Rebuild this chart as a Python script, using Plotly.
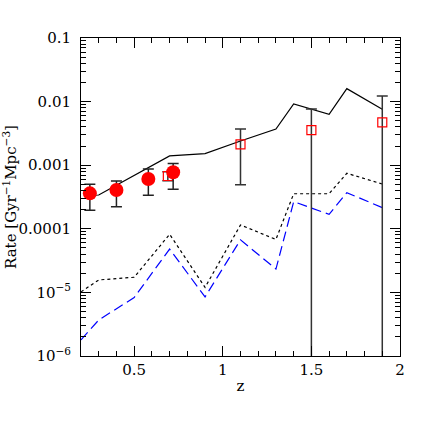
import plotly.graph_objects as go
import numpy as np

# model curves
z_model = [0.2, 0.3, 0.5, 0.7, 0.9, 1.1, 1.3, 1.4, 1.6, 1.7, 1.9]
rate_dotted = [1.02e-5, 1.57e-5, 1.73e-5, 8.2e-5, 1.2e-5, 1.15e-4, 6.8e-5, 3.56e-4, 3.56e-4, 7.46e-4, 5.06e-4]
rate_dashed = [1.79e-6, 3.68e-6, 8.3e-6, 4.8e-5, 8.5e-6, 6.7e-5, 2.33e-5, 2.67e-4, 1.69e-4, 3.7e-4, 2.15e-4]
z_solid = [0.25, 0.3, 0.7, 0.9, 1.1, 1.3, 1.4, 1.6, 1.7, 1.9]
rate_solid = [3.35e-4, 3.4e-4, 1.40e-3, 1.52e-3, 2.4e-3, 3.71e-3, 9.16e-3, 6.3e-3, 1.6e-2, 7.57e-3]

# observed rates: filled circles
z_circ = [0.25, 0.4, 0.58, 0.72]
rate_circ = [3.61e-4, 4.07e-4, 6.07e-4, 7.73e-4]
circ_hi = [5.0e-4, 5.65e-4, 8.7e-4, 1.06e-3]
circ_lo = [1.95e-4, 2.23e-4, 3.37e-4, 4.18e-4]

# observed rates: open squares
z_sq = [0.69, 1.1, 1.5, 1.9]
rate_sq = [6.76e-4, 2.13e-3, 3.57e-3, 4.73e-3]
sq_hi = [7.9e-4, 3.7e-3, 7.66e-3, 1.22e-2]
sq_lo = [5.7e-4, 4.93e-4, 1e-8, 1e-8]

y_tickvals = [1e-6, 1e-5, 1e-4, 1e-3, 1e-2, 1e-1]
y_ticktext = ["10<sup>−6</sup>", "10<sup>−5</sup>", "0.0001", "0.001", "0.01", "0.1"]
x_tickvals = [0.5, 1, 1.5, 2]
x_ticktext = ["0.5", "1", "1.5", "2"]

minor_y = [m * 10.0 ** e for e in range(-6, -1) for m in range(2, 10)]
minor_x = [round(v, 1) for v in np.arange(0.2, 2.01, 0.1)]

font = "DejaVu Serif"
fig = go.Figure()

fig.add_trace(go.Scatter(x=z_model, y=rate_dotted, mode="lines",
                         line=dict(color="black", width=1.2, dash="dot")))
fig.add_trace(go.Scatter(x=z_model, y=rate_dashed, mode="lines",
                         line=dict(color="#0000ff", width=1.2, dash="10px,5px")))
fig.add_trace(go.Scatter(x=z_solid, y=rate_solid, mode="lines",
                         line=dict(color="black", width=1.2)))

fig.add_trace(go.Scatter(
    x=z_sq, y=rate_sq, mode="markers",
    marker=dict(symbol="square-open", size=9, color="red", line=dict(width=1.2, color="red")),
    error_y=dict(type="data", symmetric=False,
                 array=[h - v for h, v in zip(sq_hi, rate_sq)],
                 arrayminus=[v - l for v, l in zip(rate_sq, sq_lo)],
                 color="#333333", thickness=1.5, width=5.5)))

fig.add_trace(go.Scatter(
    x=z_circ, y=rate_circ, mode="markers",
    marker=dict(symbol="circle", size=14, color="red"),
    error_y=dict(type="data", symmetric=False,
                 array=[h - v for h, v in zip(circ_hi, rate_circ)],
                 arrayminus=[v - l for v, l in zip(rate_circ, circ_lo)],
                 color="#222222", thickness=1.5, width=5.5)))

fig.update_layout(
    width=436, height=436,
    margin=dict(l=81, r=36, t=38, b=80),
    paper_bgcolor="white", plot_bgcolor="white",
    showlegend=False,
    font=dict(family=font, size=15, color="black"),
)
fig.update_xaxes(
    range=[0.2, 2], showgrid=False, zeroline=False, automargin=False,
    showline=True, linecolor="black", linewidth=1, mirror="ticks",
    ticks="inside", ticklen=10, tickcolor="black", tickwidth=1,
    tickmode="array", tickvals=x_tickvals, ticktext=x_ticktext,
    minor=dict(ticks="inside", ticklen=5, tickcolor="black", tickwidth=1,
               tickmode="array", tickvals=minor_x, showgrid=False),
    title=dict(text="z", font=dict(family=font, size=15), standoff=2),
    tickfont=dict(family=font, size=15),
)
fig.update_yaxes(
    type="log", range=[-6, -1], showgrid=False, zeroline=False, automargin=False,
    showline=True, linecolor="black", linewidth=1, mirror="ticks",
    ticks="inside", ticklen=10, tickcolor="black", tickwidth=1,
    tickmode="array", tickvals=y_tickvals, ticktext=y_ticktext,
    ticklabelstandoff=6,
    minor=dict(ticks="inside", ticklen=5, tickcolor="black", tickwidth=1,
               tickmode="array", tickvals=minor_y, showgrid=False),
    title=dict(text="Rate [Gyr<sup>−1</sup>Mpc<sup>−3</sup>]", font=dict(family=font, size=15), standoff=2),
    tickfont=dict(family=font, size=15),
)

fig.write_html("out.html", config={"displayModeBar": False},
               post_script="document.body.style.margin='0';")
